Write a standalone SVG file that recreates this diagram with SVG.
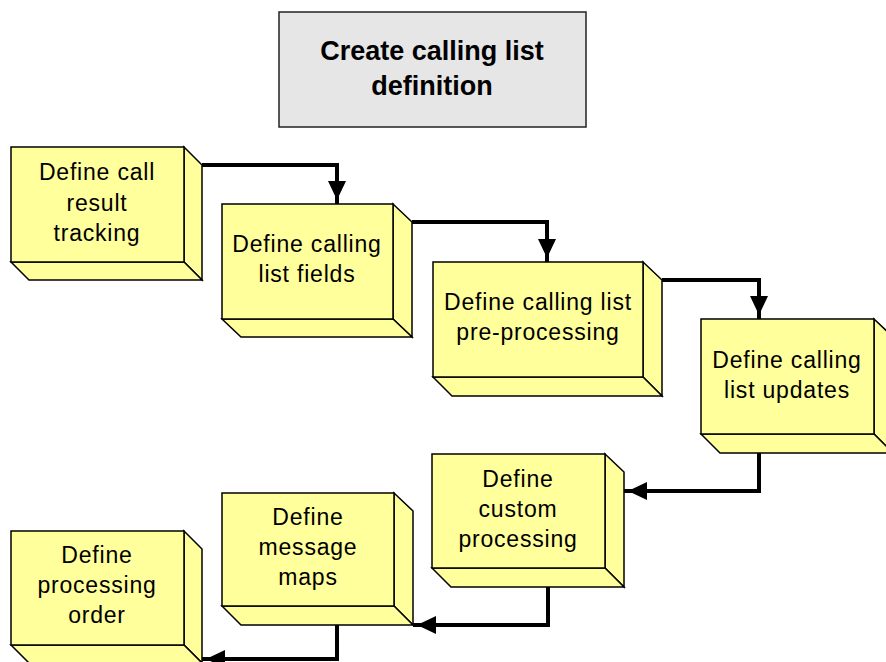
<svg xmlns="http://www.w3.org/2000/svg" width="886" height="662" viewBox="0 0 886 662">
<style>
.face{fill:#ffff9c;stroke:#000;stroke-width:1.5;stroke-linejoin:miter}
.lbl{font-family:"Liberation Sans",Arial,sans-serif;font-size:23px;letter-spacing:0.8px;fill:#000;text-anchor:middle}
.title{font-family:"Liberation Sans",Arial,sans-serif;font-size:27px;font-weight:bold;fill:#000;text-anchor:middle}
.conn{fill:none;stroke:#000;stroke-width:4;stroke-linejoin:miter}
</style>
<defs>
<marker id="ah" viewBox="0 0 23 18" refX="23" refY="9" markerWidth="23" markerHeight="18" orient="auto" markerUnits="userSpaceOnUse">
<path d="M0,0 L19,9 L0,18 z M18,7.5 H23 V10.5 H18 z" fill="#000"/>
</marker>
</defs>
<rect width="886" height="662" fill="#fff"/>
<g id="title">
<rect x="279" y="12" width="307" height="115" fill="#e6e6e6" stroke="#222" stroke-width="1.5"/>
<text class="title" x="432" y="60">Create calling list</text>
<text class="title" x="432" y="95">definition</text>
</g>
<g id="connectors">
<path class="conn" d="M202,165 H337 V204" marker-end="url(#ah)"/>
<path class="conn" d="M412,222 H547 V262" marker-end="url(#ah)"/>
<path class="conn" d="M662,280 H759 V319" marker-end="url(#ah)"/>
<path class="conn" d="M759,453 V491 H624" marker-end="url(#ah)"/>
<path class="conn" d="M548,587 V625 H413" marker-end="url(#ah)"/>
<path class="conn" d="M337,625 V659 H202" marker-end="url(#ah)"/>
</g>
<g id="n1">
<path class="face" d="M184,147 L202,165 V280 L184,262 Z"/>
<path class="face" d="M11,262 H184 L202,280 H29 Z"/>
<rect class="face" x="11" y="147" width="173" height="115"/>
<text class="lbl" x="97" y="180">Define call</text>
<text class="lbl" x="97" y="211">result</text>
<text class="lbl" x="97" y="241">tracking</text>
</g>
<g id="n2">
<path class="face" d="M393,204 L412,222 V337 L393,319 Z"/>
<path class="face" d="M222,319 H393 L412,337 H241 Z"/>
<rect class="face" x="222" y="204" width="171" height="115"/>
<text class="lbl" x="307" y="252">Define calling</text>
<text class="lbl" x="307" y="282">list fields</text>
</g>
<g id="n3">
<path class="face" d="M643,262 L662,280 V396 L643,377 Z"/>
<path class="face" d="M433,377 H643 L662,396 H452 Z"/>
<rect class="face" x="433" y="262" width="210" height="115"/>
<text class="lbl" x="538" y="310">Define calling list</text>
<text class="lbl" x="538" y="340">pre-processing</text>
</g>
<g id="n4">
<path class="face" d="M874,319 L893,337 V453 L874,434 Z"/>
<path class="face" d="M701,434 H874 L893,453 H720 Z"/>
<rect class="face" x="701" y="319" width="173" height="115"/>
<text class="lbl" x="787" y="368">Define calling</text>
<text class="lbl" x="787" y="398">list updates</text>
</g>
<g id="n5">
<path class="face" d="M605,454 L624,472 V587 L605,568 Z"/>
<path class="face" d="M432,568 H605 L624,587 H451 Z"/>
<rect class="face" x="432" y="454" width="173" height="114"/>
<text class="lbl" x="518" y="487">Define</text>
<text class="lbl" x="518" y="517">custom</text>
<text class="lbl" x="518" y="547">processing</text>
</g>
<g id="n6">
<path class="face" d="M394,493 L413,511 V625 L394,606 Z"/>
<path class="face" d="M222,606 H394 L413,625 H241 Z"/>
<rect class="face" x="222" y="493" width="172" height="113"/>
<text class="lbl" x="308" y="525">Define</text>
<text class="lbl" x="308" y="555">message</text>
<text class="lbl" x="308" y="585">maps</text>
</g>
<g id="n7">
<path class="face" d="M184,531 L202,549 V663 L184,645 Z"/>
<path class="face" d="M11,645 H184 L202,663 H29 Z"/>
<rect class="face" x="11" y="531" width="173" height="114"/>
<text class="lbl" x="97" y="563">Define</text>
<text class="lbl" x="97" y="593">processing</text>
<text class="lbl" x="97" y="623">order</text>
</g>
</svg>
